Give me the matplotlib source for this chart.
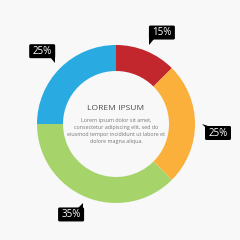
import numpy as np
import matplotlib.pyplot as plt
from matplotlib.patches import FancyBboxPatch, Polygon

plt.rcParams['font.family'] = ['Open Sans', 'DejaVu Sans']

# data
shares = [12.5, 25, 37.5, 25]          # slice sizes as drawn
labels = ['15%', '25%', '35%', '25%']  # printed callout values
colors = ['#C1272D', '#FBB03B', '#A6D46A', '#29ABE2']
sides = ['bl', 'tl', 'tr', 'br']       # which corner the callout tail sits on
title = 'LOREM IPSUM'
body = ('Lorem ipsum dolor sit amet,\n'
        'consectetur adipiscing elit, sed do\n'
        'eiusmod tempor incididunt ut labore et\n'
        'dolore magna aliqua.')

bg = '#F8F8F8'
cx, cy = 116, 116
R, W = 79, 26

fig = plt.figure(figsize=(2.4, 2.4), dpi=100, facecolor=bg)
ax = fig.add_axes([0, 0, 1, 1])
ax.set_facecolor(bg)

wedges, _ = ax.pie(shares, colors=colors, startangle=90, counterclock=False,
                   radius=R, center=(cx, cy),
                   wedgeprops=dict(width=W, linewidth=0))
ax.set_xlim(0, 240)
ax.set_ylim(0, 240)
ax.set_aspect('equal')
ax.axis('off')


def callout(tip, text, side, w=26, h=14):
    tx, ty = tip
    if side == 'bl':
        x0, y0 = tx, ty + 5
        tri = [(tx, ty), (x0, y0 + 1), (x0 + 5, y0 + 1)]
    elif side == 'br':
        x0, y0 = tx - w, ty + 5
        tri = [(tx, ty), (tx, y0 + 1), (tx - 5, y0 + 1)]
    elif side == 'tr':
        x0, y0 = tx - w + 1, ty - 4 - h
        tri = [(tx, ty), (tx, ty - 5), (tx - 5, ty - 5)]
    else:  # 'tl'
        x0, y0 = tx + 3, ty - 2 - h
        tri = [(tx, ty), (x0, ty - 3), (x0 + 6, ty - 3)]
    ax.add_patch(FancyBboxPatch((x0, y0), w, h,
                                boxstyle='round,pad=0,rounding_size=1.5',
                                fc='black', ec='none'))
    ax.add_patch(Polygon(tri, closed=True, fc='black', ec='none'))
    ax.text(x0 + w / 2, y0 + h / 2, text, color='white', fontsize=7,
            ha='center', va='center')


for wdg, lab, side in zip(wedges, labels, sides):
    mid = np.deg2rad((wdg.theta1 + wdg.theta2) / 2)
    tip = (cx + 86 * np.cos(mid), cy + 86 * np.sin(mid))
    callout(tip, lab, side)

ax.text(cx, cy + 16, title, color='#4D4D4D', fontsize=6.1,
        ha='center', va='center')
ax.text(cx, cy - 7, body, color='#777777', fontsize=3.9,
        ha='center', va='center', linespacing=1.45)

fig.savefig('out.png', dpi=100, facecolor=bg)
